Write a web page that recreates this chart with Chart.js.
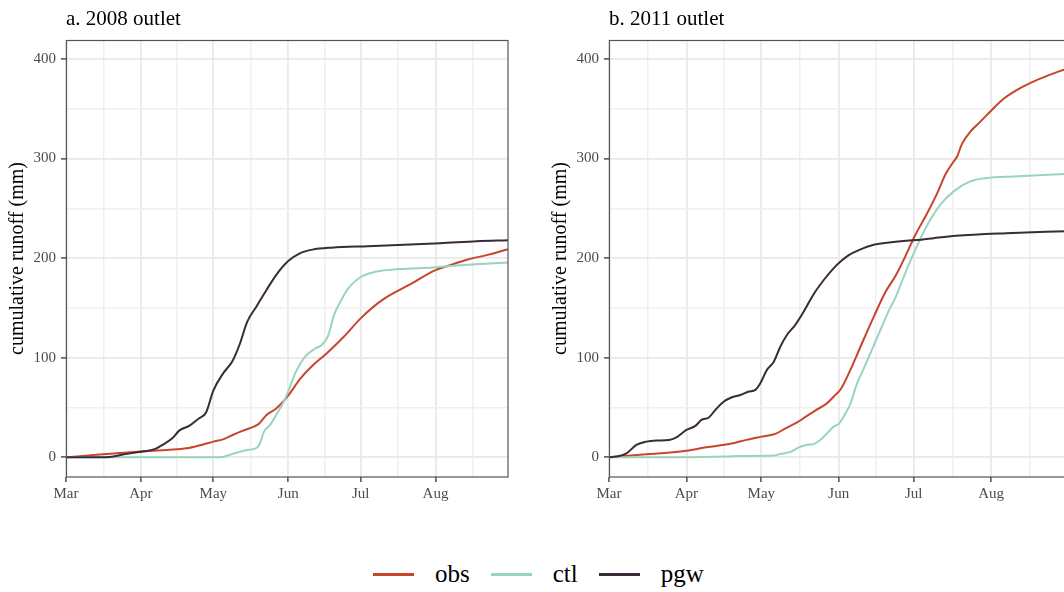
<!DOCTYPE html>
<html>
<head>
<meta charset="utf-8">
<script src="https://cdn.jsdelivr.net/npm/chart.js@4.4.1/dist/chart.umd.min.js"></script>
<style>
  html, body { margin: 0; padding: 0; background: #fff; }
  body { width: 1064px; height: 592px; overflow: hidden; position: relative;
         font-family: "Liberation Serif", "DejaVu Serif", serif; }
  .panel { position: absolute; top: 0; width: 540px; height: 505px; }
  #legend { position: absolute; left: 373px; top: 559px; height: 30px;
            display: flex; align-items: center; font-size: 25px; color: #000; }
  #legend .item { display: flex; align-items: center; margin-right: 21px; }
  #legend .key { display: inline-block; width: 41px; height: 3px; margin-right: 21px; }
</style>
</head>
<body>
<div class="panel" style="left:0"><canvas id="chart-a"></canvas></div>
<div class="panel" style="left:543px"><canvas id="chart-b"></canvas></div>
<div id="legend"></div>
<script>
// x axis is days since 1 March
const monthDays   = [0, 31, 61, 92, 122, 153];
const monthLabels = ['Mar', 'Apr', 'May', 'Jun', 'Jul', 'Aug'];
const midMonthDays = [15.5, 46, 76.5, 107, 137.5, 168.5];
const runoffTicks = [0, 100, 200, 300, 400];
const runoffMinor = [50, 150, 250, 350];

const seriesNames  = ['obs', 'ctl', 'pgw'];
const seriesColors = ['#C8452C', '#9AD3BF', '#3A2A3A'];

// 2008 outlet
const obs2008Days = [0, 14, 31, 42, 50, 56, 61, 65, 69, 73, 78, 80, 83, 87, 92, 97, 102, 108, 115, 122, 131, 142, 153, 158, 166, 175, 183];
const obs2008     = [0, 2.7, 5.7, 7.4, 9, 12.4, 15.7, 18, 22.4, 26.5, 31, 34, 42.5, 49, 62, 79, 92, 104.5, 121, 139.5, 158, 173, 188, 192, 198.3, 203.5, 209];
const ctl2008Days = [0, 64, 69, 75, 78, 80, 82, 84.5, 87, 90, 92, 95, 99, 103, 106, 108.5, 111, 114, 117, 122, 128.6, 138, 152, 166, 183];
const ctl2008     = [0, 0, 3.4, 7.4, 8.4, 12.4, 25.8, 32.5, 42.5, 55, 66, 85, 101, 109, 113, 122, 143, 158, 170, 181, 186.6, 189, 190.6, 193.3, 195.6];
const pgw2008Days = [0, 10, 18, 24, 31, 37, 40, 44, 47, 51, 55, 58, 61, 65, 69, 72, 75, 79, 83, 87, 92, 97, 102, 110, 125, 140, 155, 170, 183];
const pgw2008     = [0, 0, 0.3, 3, 5.5, 8.4, 12.5, 19, 27, 31.5, 39, 45, 67, 84, 97, 114, 136, 152, 168, 183, 197, 205, 208.5, 210.5, 212, 213.5, 215, 217, 218];

// 2011 outlet
const obs2011Days = [0, 12.5, 31, 39, 48.6, 55, 60.6, 66.6, 71, 75, 79, 83, 87, 90, 92.7, 96.7, 100.7, 106, 110.7, 114.7, 118.7, 122.4, 127.4, 131.4, 134.7, 138, 139.4, 141.4, 144.7, 148.7, 153.4, 158, 163.4, 168.8, 175.4, 183];
const obs2011     = [0, 2.5, 6.5, 10, 13.5, 17.5, 20.5, 23.5, 29.5, 34.5, 41, 47.6, 53.6, 61, 68, 88, 111, 141, 166, 182, 202, 222, 245, 265, 284, 297, 302, 315, 327, 337, 349, 360, 369, 376, 383, 390];
const ctl2011Days = [0, 30, 47, 53, 66, 68.6, 73, 76, 79, 82, 84.6, 87.3, 90, 92, 94, 96.7, 99.3, 102, 105.3, 108.7, 112, 115, 118, 122.4, 127.4, 132.7, 138, 144.7, 151.4, 162, 183];
const ctl2011     = [0, 0, 0.7, 1.3, 1.7, 3.4, 5.7, 10, 12.4, 13.4, 17.4, 24, 30.8, 33.5, 41, 54, 74, 89, 108, 128, 147, 162, 181, 207, 233, 253.6, 267, 277, 280.4, 282, 284.5];
const pgw2011Days = [0, 3, 7, 11, 15, 19, 24, 27, 31, 34.6, 37, 40, 42.6, 46, 49, 52.6, 56, 58.6, 60.6, 63.3, 66, 68.6, 71.3, 74.6, 78, 82, 86, 90, 92.5, 96, 100, 106, 113, 119, 125, 130, 139, 159, 183];
const pgw2011     = [0, 0.7, 4, 12.4, 15.7, 16.8, 17.4, 20, 27.5, 31.5, 37.5, 40, 47.6, 56, 60, 62.6, 66, 67.7, 74.4, 88, 96, 111, 123, 133, 146.4, 164, 178, 190, 196, 203, 208, 213.4, 216, 217.5, 218.5, 220, 222.4, 225, 227];

const SERIF = '"Liberation Serif", "DejaVu Serif", serif';
const toPoints = (days, vals) => days.map((d, i) => ({ x: d, y: vals[i] }));
const isMonth = (v) => monthDays.includes(v);
const isMajorRunoff = (v) => runoffTicks.includes(v);

// grid styling: major breaks a touch darker than the minor ones
const gridColor = (major) => major ? '#E9E9E9' : '#F0F0F0';
const gridWidth = (major) => major ? 1.8 : 1.5;
const tickMark  = (major) => major ? '#333333' : 'rgba(0,0,0,0)';

// panel title above the plot area, left aligned with it
const panelTitle = {
  id: 'panelTitle',
  afterDraw(chart, args, opts) {
    const { ctx, chartArea } = chart;
    ctx.save();
    ctx.font = '21px ' + SERIF;
    ctx.fillStyle = '#000';
    ctx.textBaseline = 'alphabetic';
    ctx.textAlign = 'left';
    ctx.fillText(opts.text, chartArea.left, 25);
    ctx.restore();
  }
};

// grey frame round the plot area
const panelFrame = {
  id: 'panelFrame',
  afterDatasetsDraw(chart) {
    const { ctx, chartArea: a } = chart;
    ctx.save();
    ctx.strokeStyle = '#555555';
    ctx.lineWidth = 1.2;
    const l = Math.round(a.left) + 0.5, t = Math.round(a.top) + 0.5;
    ctx.strokeRect(l, t, Math.round(a.right) - l, Math.round(a.bottom) - t);
    ctx.restore();
  }
};

function makePanel(id, title, series, padRight) {
  const datasets = series.map((s, i) => ({
    label: seriesNames[i],
    data: toPoints(s[0], s[1]),
    borderColor: seriesColors[i],
    backgroundColor: seriesColors[i],
    borderWidth: 2,
    pointRadius: 0,
    fill: false,
    cubicInterpolationMode: 'monotone',
    order: 3 - i
  }));

  const tickFont = { family: SERIF, size: 15 };

  return new Chart(document.getElementById(id), {
    type: 'line',
    data: { datasets },
    plugins: [panelTitle, panelFrame],
    options: {
      responsive: true,
      maintainAspectRatio: false,
      animation: false,
      devicePixelRatio: 1,
      layout: { padding: { left: 0, top: 40, right: padRight, bottom: 0 } },
      plugins: {
        legend: { display: false },
        tooltip: { enabled: false },
        panelTitle: { text: title }
      },
      scales: {
        x: {
          type: 'linear',
          min: 0, max: 183,
          afterBuildTicks: (s) => {
            s.ticks = monthDays.concat(midMonthDays).sort((a, b) => a - b).map(v => ({ value: v }));
          },
          afterFit: (s) => { s.height = 28; },
          border: { display: false },
          grid: {
            color: (c) => gridColor(c.tick && isMonth(c.tick.value)),
            lineWidth: (c) => gridWidth(c.tick && isMonth(c.tick.value)),
            tickColor: (c) => tickMark(c.tick && isMonth(c.tick.value)),
            tickLength: 5,
            tickWidth: 1.3
          },
          ticks: {
            autoSkip: false, maxRotation: 0, padding: 3,
            color: '#4D4D4D', font: tickFont,
            callback: (v) => {
              const k = monthDays.indexOf(v);
              return k >= 0 ? monthLabels[k] : '';
            }
          }
        },
        y: {
          min: -19.8, max: 419,
          afterBuildTicks: (s) => {
            s.ticks = runoffTicks.concat(runoffMinor).sort((a, b) => a - b).map(v => ({ value: v }));
          },
          afterFit: (s) => { s.width = 66; },
          border: { display: false },
          grid: {
            color: (c) => gridColor(c.tick && isMajorRunoff(c.tick.value)),
            lineWidth: (c) => gridWidth(c.tick && isMajorRunoff(c.tick.value)),
            tickColor: (c) => tickMark(c.tick && isMajorRunoff(c.tick.value)),
            tickLength: 5,
            tickWidth: 1.3
          },
          ticks: {
            padding: 5, color: '#4D4D4D', font: tickFont,
            callback: (v) => isMajorRunoff(v) ? String(v) : ''
          },
          title: {
            display: true,
            text: 'cumulative runoff (mm)',
            color: '#000',
            font: { family: SERIF, size: 20 },
            padding: { top: 6, bottom: 0 }
          }
        }
      }
    }
  });
}

makePanel('chart-a', 'a. 2008 outlet',
  [[obs2008Days, obs2008], [ctl2008Days, ctl2008], [pgw2008Days, pgw2008]], 32);
makePanel('chart-b', 'b. 2011 outlet',
  [[obs2011Days, obs2011], [ctl2011Days, ctl2011], [pgw2011Days, pgw2011]], 17);

// shared legend under both panels
const legendEl = document.getElementById('legend');
seriesNames.forEach((name, i) => {
  const item = document.createElement('span');
  item.className = 'item';
  const key = document.createElement('span');
  key.className = 'key';
  key.style.background = seriesColors[i];
  const label = document.createElement('span');
  label.textContent = name;
  item.appendChild(key);
  item.appendChild(label);
  legendEl.appendChild(item);
});
</script>
</body>
</html>
